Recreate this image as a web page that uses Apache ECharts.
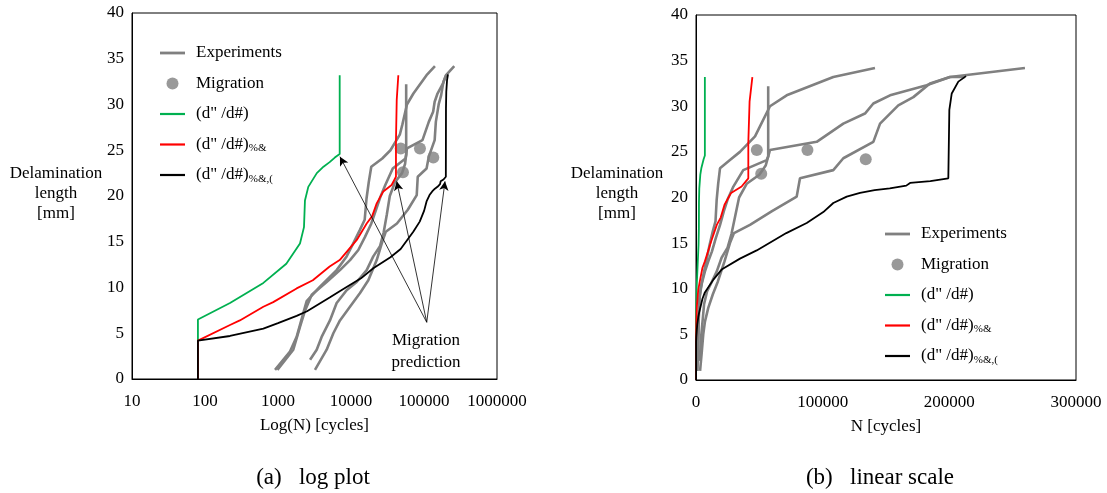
<!DOCTYPE html>
<html><head><meta charset="utf-8">
<script src="https://cdn.jsdelivr.net/npm/echarts@6/dist/echarts.min.js"></script>
<style>html,body{margin:0;padding:0;background:#fff}#c{width:1107px;height:493px}</style>
</head><body><div id="c"></div>
<script>
// ---- data: [N cycles, delamination length mm] ----
const expA = [[910,1.0],[1460,3.0],[1800,4.6],[2220,7.2],[2470,8.5],[3760,10.1],[6360,11.9],[8710,13.4],[10700,14.8],[13250,16.3],[15400,17.4],[16300,19.7],[17500,21.5],[18950,23.2],[26800,24.1],[34700,25.0],[46600,26.7],[50500,27.8],[58400,30.0],[71600,31.2],[108400,33.2],[141300,34.2]];
const expB = [[980,1.0],[1620,3.2],[2000,5.7],[2350,7.5],[2900,9.2],[4640,10.6],[7060,11.9],[9700,13.0],[12600,14.1],[15500,15.5],[19000,17.0],[22000,18.5],[25000,19.8],[29500,21.2],[37300,23.0],[55800,24.1],[57000,24.5],[57000,32.2]];
const expC = [[2750,2.1],[3390,3.2],[3960,4.6],[5150,6.4],[6360,8.3],[8710,9.7],[11960,10.6],[16400,11.9],[20200,13.4],[24950,14.5],[28000,16.0],[31000,18.0],[34000,20.0],[40000,21.5],[50000,22.5],[55000,23.5],[58400,25.2],[95300,26.1],[116300,28.1],[133400,29.2],[140000,30.3],[153200,31.2],[182100,32.3],[200500,33.2],[259700,34.2]];
const expD = [[3210,1.0],[4640,3.2],[5730,5.0],[7060,6.4],[9680,7.9],[13300,9.4],[17270,10.8],[22500,13.0],[26800,15.0],[30000,16.1],[42600,17.0],[60000,18.5],[79500,20.1],[82100,22.1],[108400,23.0],[116300,24.3],[140000,26.1],[145300,28.1],[159700,30.1],[171600,31.0],[184700,32.5],[200500,33.2],[212400,33.2]];
const migration = [[48000,25.2],[88000,25.2],[134000,24.2],[51500,22.6]];
const modelGreen = [[80,0],[80,6.5],[220,8.3],[630,10.5],[1300,12.6],[2000,14.8],[2270,16.6],[2340,19.5],[2600,21.0],[3400,22.5],[4200,23.2],[5100,23.7],[6000,24.2],[7000,24.6],[7000,33.2]];
const modelRed = [[80,0],[80,4.2],[220,5.9],[300,6.4],[630,7.9],[860,8.4],[1800,9.9],[3000,10.8],[5100,12.3],[7000,13.0],[12000,15.2],[16400,17.0],[19500,17.8],[22500,19.2],[27700,20.5],[36000,21.2],[41300,22.1],[41300,26.0],[42300,30.5],[44500,33.2]];
const modelBlack = [[80,0],[80,4.2],[220,4.7],[630,5.5],[1000,6.1],[1800,6.9],[2500,7.4],[5100,8.9],[7000,9.6],[13700,11.0],[20200,12.1],[34700,13.3],[47900,14.2],[71300,16.1],[87400,17.2],[100500,18.4],[108400,19.4],[119000,20.1],[129500,20.5],[141000,20.8],[153000,21.0],[166000,21.3],[169000,21.6],[185000,21.8],[199200,22.1],[200000,29.6],[201900,31.4],[207100,32.7],[213200,33.3]];
const arrowFrom = [109000, 6.2];
const arrowTargets = [[7060,24.3],[42300,21.6],[194000,21.6]];
const yTicks = [0,5,10,15,20,25,30,35,40];
const logTicks = [10,100,1000,10000,100000,1000000];
const linTicks = [0,100000,200000,300000];
const names = ['Experiments','Migration','(d" /d#)','(d" /d#)%&','(d" /d#)%&,('];
const subs = {'(d" /d#)%&':'%&','(d" /d#)%&,(':'%&,('};

const FONT = '"Liberation Serif","Times New Roman",serif';
const chart = echarts.init(document.getElementById('c'), null, {renderer:'canvas'});

function seriesFor(gi){
  const base = {xAxisIndex:gi, yAxisIndex:gi, type:'line', symbol:'none', showSymbol:false, animation:false};
  const s = [];
  [expA,expB,expC,expD].forEach(d=>s.push(Object.assign({}, base, {name:names[0], data:d, lineStyle:{color:'#808080', width:2.6}, itemStyle:{color:'#808080'}})));
  s.push({name:names[1], type:'scatter', xAxisIndex:gi, yAxisIndex:gi, data:migration, symbolSize:12, itemStyle:{color:'#808080'}, animation:false});
  s.push(Object.assign({}, base, {name:names[2], data:modelGreen, lineStyle:{color:'#00b050', width:1.8}, itemStyle:{color:'#00b050'}}));
  s.push(Object.assign({}, base, {name:names[3], data:modelRed, lineStyle:{color:'#ff0000', width:1.8}, itemStyle:{color:'#ff0000'}}));
  const blk = Object.assign({}, base, {name:names[4], data:modelBlack, lineStyle:{color:'#000', width:1.8}, itemStyle:{color:'#000'}});
  if (gi===0){
    blk.markLine = {silent:true, animation:false, symbol:['none','arrow'], symbolSize:[7,9],
      lineStyle:{color:'#000', width:0.8, type:'solid'}, label:{show:false},
      data: arrowTargets.map(t=>[{coord:arrowFrom},{coord:t}])};
  }
  s.push(blk);
  return s;
}

function legendFmt(name){
  if (subs[name]) return '{t|(d" /d#)}{s|' + subs[name] + '}';
  return '{t|' + name + '}';
}
const rich = {t:{fontFamily:FONT, fontSize:17, color:'#000', lineHeight:20}, s:{fontFamily:FONT, fontSize:11, color:'#000', lineHeight:20, padding:[8,0,0,0]}};
function legendAt(left, top, data, icon, iw, ih, pad){
  return {left:left, top:top, orient:'vertical', icon:icon, itemWidth:iw, itemHeight:ih, itemGap:10.5, data:data, formatter:legendFmt,
    textStyle:{fontFamily:FONT, fontSize:17, color:'#000', lineHeight:20, padding:[0,0,0,pad], rich:rich}, selectedMode:false};
}
function legendsAt(left, top){
  return [
    legendAt(left, top, [names[0]], 'rect', 25, 2.8, 6),
    legendAt(left+6.5, top+30.5, [names[1]], 'circle', 12, 12, 12.5),
    legendAt(left, top+61, names.slice(2), 'rect', 25, 2.2, 6)
  ];
}

const axisLbl = {fontFamily:FONT, fontSize:17, color:'#000'};
const option = {
  animation:false,
  backgroundColor:'#fff',
  grid:[
    {left:132, top:13, width:365, height:366, show:true, borderColor:'#000', borderWidth:1, backgroundColor:'transparent'},
    {left:696, top:15, width:380, height:365, show:true, borderColor:'#000', borderWidth:1, backgroundColor:'transparent'}
  ],
  xAxis:[
    {gridIndex:0, type:'log', logBase:10, min:logTicks[0], max:logTicks[logTicks.length-1],
     axisLine:{show:true, lineStyle:{color:'#000'}}, axisTick:{show:false}, splitLine:{show:false},
     axisLabel:Object.assign({margin:14, formatter:v=>String(Math.round(v))}, axisLbl),
     name:'Log(N) [cycles]', nameLocation:'middle', nameGap:38, nameTextStyle:{fontFamily:FONT, fontSize:17, color:'#000'}},
    {gridIndex:1, type:'value', min:linTicks[0], max:linTicks[linTicks.length-1], interval:linTicks[1]-linTicks[0],
     axisLine:{show:true, lineStyle:{color:'#000'}}, axisTick:{show:false}, splitLine:{show:false},
     axisLabel:Object.assign({margin:14, formatter:v=>String(v)}, axisLbl),
     name:'N [cycles]', nameLocation:'middle', nameGap:38, nameTextStyle:{fontFamily:FONT, fontSize:17, color:'#000'}}
  ],
  yAxis:[0,1].map(gi=>({gridIndex:gi, type:'value', min:yTicks[0], max:yTicks[yTicks.length-1], interval:yTicks[1]-yTicks[0],
     axisLine:{show:true, lineStyle:{color:'#000'}}, axisTick:{show:false}, splitLine:{show:false},
     axisLabel:Object.assign({margin:8}, axisLbl)})),
  legend: legendsAt(155,38).concat(legendsAt(880,219)),
  series: seriesFor(0).concat(seriesFor(1)),
  graphic:[
    {type:'text', style:{text:'Delamination\nlength\n[mm]', x:56, y:164, textAlign:'center', font:'17px '+FONT, lineHeight:20, fill:'#000'}},
    {type:'text', style:{text:'Delamination\nlength\n[mm]', x:617, y:164, textAlign:'center', font:'17px '+FONT, lineHeight:20, fill:'#000'}},
    {type:'text', style:{text:'Migration\nprediction', x:426, y:330, textAlign:'center', font:'17px '+FONT, lineHeight:22, fill:'#000'}},
    {type:'text', style:{text:'(a)   log plot', x:313, y:466, textAlign:'center', font:'23px '+FONT, fill:'#000'}},
    {type:'text', style:{text:'(b)   linear scale', x:880, y:466, textAlign:'center', font:'23px '+FONT, fill:'#000'}}
  ]
};
chart.setOption(option);
</script></body></html>
